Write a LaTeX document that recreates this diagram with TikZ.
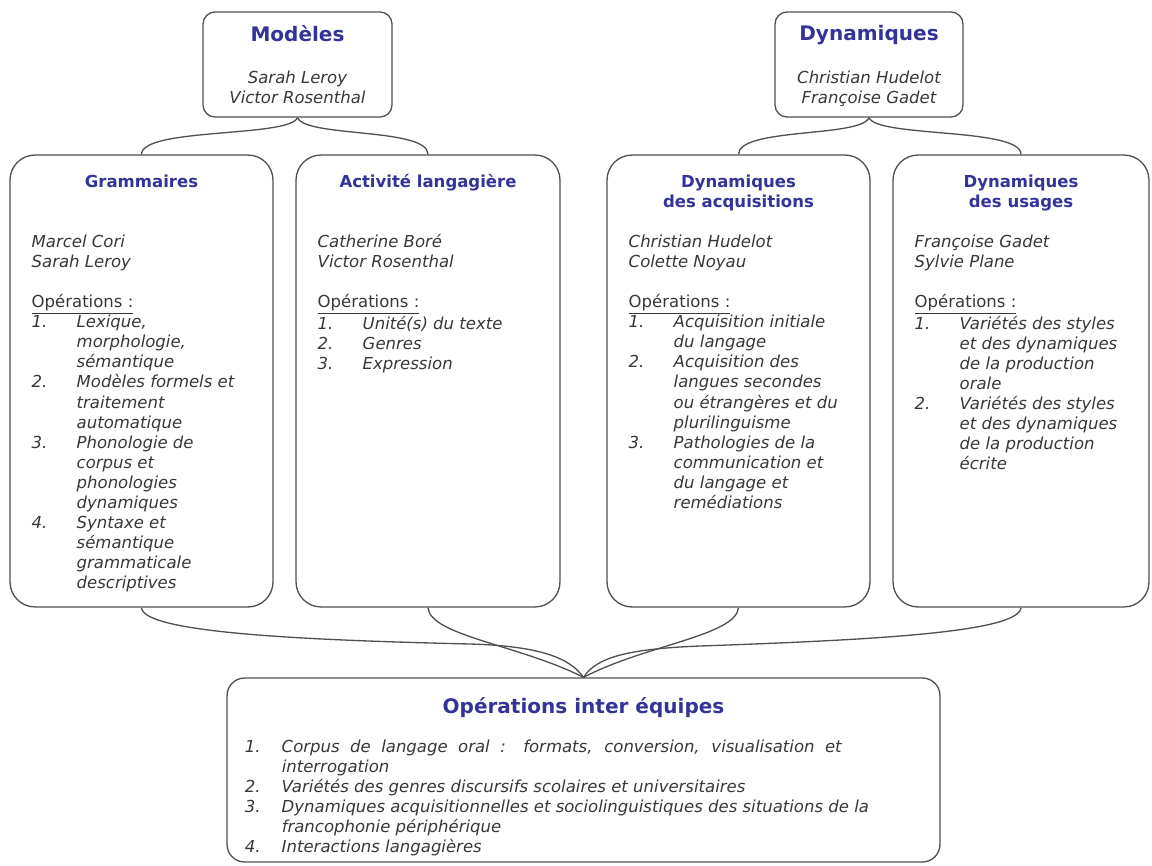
\documentclass[tikz,border=0pt]{standalone}
\usepackage{fontspec}
\setmainfont{DejaVu Sans}
\usetikzlibrary{positioning}

\definecolor{titleblue}{RGB}{51,51,153}
\definecolor{boxgray}{RGB}{80,80,80}
\definecolor{textgray}{RGB}{55,55,55}

\newcommand{\linestrut}{\rule{0pt}{8pt}}
\newcommand{\opnum}[2][0.9cm]{\makebox[#1][l]{#2}}
\newcommand{\opcont}[1][0.9cm]{\hspace*{#1}}

\begin{document}
\begin{tikzpicture}[x=0.02cm, y=-0.02cm,
    box/.style={rectangle, draw=boxgray, line width=0.75pt},
    headbox/.style={box, rounded corners=0.24cm,
                    minimum width=3.78cm, minimum height=2.1cm},
    teambox/.style={box, rounded corners=0.5cm,
                    minimum width=5.26cm, minimum height=9.04cm},
    headtitle/.style={font=\bfseries\fontsize{11.4}{13.7}\selectfont,
                      text=titleblue, inner sep=0pt, align=center},
    teamtitle/.style={font=\bfseries\fontsize{9.4}{11.4}\selectfont,
                      text=titleblue, inner sep=0pt, align=center},
    names/.style={font=\itshape\fontsize{9.4}{11.4}\selectfont,
                  text=textgray, inner sep=0pt, align=center},
    body/.style={font=\itshape\fontsize{9.4}{11.4}\selectfont,
                 text=textgray, inner sep=0pt, align=left},
    link/.style={draw=boxgray, line width=0.75pt}]
    \useasboundingbox (0,0) rectangle (1152,865);

    % top boxes
    \node (modeles) [headbox] at (297.5,64.5) {};
    \node (modeles_title) [headtitle, below=0.28cm of modeles.north]
          {\linestrut Modèles};
    \node (modeles_names) [names, below=1.16cm of modeles.north]
          {\linestrut Sarah Leroy\\Victor Rosenthal};

    \node (dynamiques) [headbox, minimum width=3.76cm] at (869,64.5) {};
    \node (dynamiques_title) [headtitle, below=0.28cm of dynamiques.north]
          {\linestrut Dynamiques};
    \node (dynamiques_names) [names, below=1.16cm of dynamiques.north]
          {\linestrut Christian Hudelot\\Françoise Gadet};

    % team boxes
    \node (grammaires) [teambox] at (141.5,381) {};
    \node (grammaires_title) [teamtitle, below=0.38cm of grammaires.north]
          {\linestrut Grammaires};
    \node (grammaires_text) [body, below right=1.58cm and 0.44cm of grammaires.north west]
          {\linestrut Marcel Cori\\
           Sarah Leroy\\[11.4pt]
           {\upshape\underline{Opérations :}}\\
           \opnum{1.}Lexique,\\
           \opcont morphologie,\\
           \opcont sémantique\\
           \opnum{2.}Modèles formels et\\
           \opcont traitement\\
           \opcont automatique\\
           \opnum{3.}Phonologie de\\
           \opcont corpus et\\
           \opcont phonologies\\
           \opcont dynamiques\\
           \opnum{4.}Syntaxe et\\
           \opcont sémantique\\
           \opcont grammaticale\\
           \opcont descriptives};

    \node (activite) [teambox, minimum width=5.28cm] at (428,381) {};
    \node (activite_title) [teamtitle, below=0.38cm of activite.north]
          {\linestrut Activité langagière};
    \node (activite_text) [body, below right=1.58cm and 0.44cm of activite.north west]
          {\linestrut Catherine Boré\\
           Victor Rosenthal\\[11.4pt]
           {\upshape\underline{Opérations :}}\\
           \opnum{1.}Unité(s) du texte\\
           \opnum{2.}Genres\\
           \opnum{3.}Expression};

    \node (acquisitions) [teambox] at (738.5,381) {};
    \node (acquisitions_title) [teamtitle, below=0.38cm of acquisitions.north]
          {\linestrut Dynamiques\\des acquisitions};
    \node (acquisitions_text) [body, below right=1.58cm and 0.44cm of acquisitions.north west]
          {\linestrut Christian Hudelot\\
           Colette Noyau\\[11.4pt]
           {\upshape\underline{Opérations :}}\\
           \opnum{1.}Acquisition initiale\\
           \opcont du langage\\
           \opnum{2.}Acquisition des\\
           \opcont langues secondes\\
           \opcont ou étrangères et du\\
           \opcont plurilinguisme\\
           \opnum{3.}Pathologies de la\\
           \opcont communication et\\
           \opcont du langage et\\
           \opcont remédiations};

    \node (usages) [teambox, minimum width=5.12cm] at (1021,381) {};
    \node (usages_title) [teamtitle, below=0.38cm of usages.north]
          {\linestrut Dynamiques\\des usages};
    \node (usages_text) [body, below right=1.58cm and 0.44cm of usages.north west]
          {\linestrut Françoise Gadet\\
           Sylvie Plane\\[11.4pt]
           {\upshape\underline{Opérations :}}\\
           \opnum{1.}Variétés des styles\\
           \opcont et des dynamiques\\
           \opcont de la production\\
           \opcont orale\\
           \opnum{2.}Variétés des styles\\
           \opcont et des dynamiques\\
           \opcont de la production\\
           \opcont écrite};

    % common box
    \node (inter_equipes) [box, rounded corners=0.35cm,
                           minimum width=14.26cm, minimum height=3.68cm]
          at (583.5,770) {};
    \node (inter_title) [headtitle, below=0.4cm of inter_equipes.north]
          {\linestrut Opérations inter équipes};
    \node (inter_text) [body, below right=1.22cm and 0.36cm of inter_equipes.north west]
          {\linestrut\opnum[0.74cm]{1.}\makebox[11.2cm][s]{Corpus de langage oral : formats, conversion, visualisation et}\\
           \opcont[0.74cm]interrogation\\
           \opnum[0.74cm]{2.}Variétés des genres discursifs scolaires et universitaires\\
           \opnum[0.74cm]{3.}Dynamiques acquisitionnelles et sociolinguistiques des situations de la\\
           \opcont[0.74cm]francophonie périphérique\\
           \opnum[0.74cm]{4.}Interactions langagières};

    % braces
    \draw [link] (modeles.south) .. controls +(-8,20) and +(0,-27) .. (grammaires.north);
    \draw [link] (modeles.south) .. controls +(8,20) and +(0,-27) .. (activite.north);
    \draw [link] (dynamiques.south) .. controls +(-8,20) and +(0,-27) .. (acquisitions.north);
    \draw [link] (dynamiques.south) .. controls +(8,20) and +(0,-27) .. (usages.north);

    \draw [link] (grammaires.south) .. controls +(1.5,25) and (300,640) .. (470,644)
                 .. controls (540,646) and (570,658) .. (inter_equipes.north);
    \draw [link] (activite.south) .. controls +(2,28) and (520,645) .. (inter_equipes.north);
    \draw [link] (acquisitions.south) .. controls +(-2.5,28) and (645,645) .. (inter_equipes.north);
    \draw [link] (usages.south) .. controls +(-2,25) and (870,640) .. (700,646)
                 .. controls (625,649) and (596,658) .. (inter_equipes.north);
\end{tikzpicture}
\end{document}
